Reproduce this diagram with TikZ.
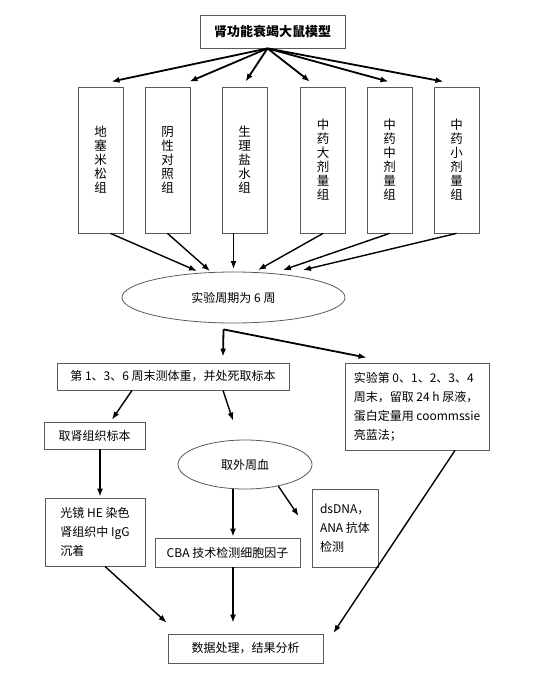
\documentclass[tikz,border=0pt]{standalone}
\usepackage{fontspec}
\usepackage{tikz}
\usetikzlibrary{arrows.meta,positioning,calc,shapes.geometric}
\usepackage{xcolor}
\setmainfont{Noto Sans CJK SC}
\definecolor{bgray}{HTML}{5A5A5A}

\begin{document}
\begin{tikzpicture}[x=1pt,y=-1pt,
box/.style={draw=bgray,line width=0.8pt,inner sep=0pt,font=\fontsize{12}{19}\selectfont,align=center},
vbox/.style={box,minimum width=45pt,minimum height=146pt,font=\fontsize{12.5}{14}\selectfont},
oval/.style={ellipse,draw=bgray,line width=0.8pt,inner sep=0pt,font=\fontsize{12}{14}\selectfont},
arr/.style={draw,line width=1.4pt,-{Latex[length=8pt,width=6pt]}}]
\useasboundingbox (0,0) rectangle (535,682);
\node[box,minimum width=145pt,minimum height=33pt,font=\fontsize{13}{15}\selectfont\bfseries] (title) at (272.5,31.5) {肾功能衰竭大鼠模型};
\foreach \n/\x/\t in {1/100.5/{地\\塞\\米\\松\\组},2/167.5/{阴\\性\\对\\照\\组},3/244.5/{生\\理\\盐\\水\\组},
  4/323/{中\\药\\大\\剂\\量\\组},5/389.5/{中\\药\\中\\剂\\量\\组},6/456.5/{中\\药\\小\\剂\\量\\组}}
  \node[vbox] (g\n) at (\x,160) {\t};
\node[oval,minimum width=223pt,minimum height=51pt] (cyc) at (233.5,297.5) {实验周期为 6 周};
\node[box,minimum width=232pt,minimum height=27pt] (wk) at (173,376.5) {第 1、3、6 周末测体重，并处死取标本};
\node[box,minimum width=144pt,minimum height=87pt,align=left] (urine) at (417,406.5) {实验第 0、1、2、3、4\\周末，留取 24 h 尿液，\\蛋白定量用 coommssie\\亮蓝法；};
\node[box,minimum width=101pt,minimum height=27pt] (kid) at (94.5,435.5) {取肾组织标本};
\node[oval,minimum width=134pt,minimum height=49pt] (blood) at (245,464.5) {取外周血};
\node[box,minimum width=100pt,minimum height=68pt,align=left] (he) at (95,532) {光镜 HE 染色\\肾组织中 IgG\\沉着};
\node[box,minimum width=145pt,minimum height=29pt] (cba) at (227.5,552.5) {CBA 技术检测细胞因子};
\node[box,minimum width=66pt,minimum height=78pt,align=left] (ds) at (345,528) {dsDNA，\\ANA 抗体\\检测};
\node[box,minimum width=155pt,minimum height=29pt] (res) at (245.5,648.5) {数据处理，结果分析};

\coordinate (hub) at ([xshift=-5pt]title.south);
\foreach \i/\d in {1/11,2/22,3/1,4/-13,5/-1,6/-13}
  \draw[arr,line width=1.8pt] (hub) -- ([xshift=\d pt,yshift=5pt]g\i.north);
\foreach \i/\s/\dx/\dy in {1/10/-36.5/26.5,2/0/-23.5/26.5,3/-11/0/28.5,4/0/24.5/27.5,5/0/49.5/27.5,6/0/69.5/27.5}
  \draw[arr] ([xshift=\s pt]g\i.south) -- ([xshift=\dx pt,yshift=\dy pt]cyc.center);
\coordinate (split) at ([xshift=-10pt,yshift=-6pt]cyc.south);
\draw[arr,line width=1.8pt] (split) -- ([xshift=50pt,yshift=6pt]wk.north);
\draw[arr,line width=1.8pt] (split) -- ([xshift=22pt,yshift=5pt]urine.north west);
\draw[arr] ([xshift=-41pt]wk.south) -- ([xshift=17.5pt,yshift=2pt]kid.north);
\draw[arr] ([xshift=50pt]wk.south) -- ([xshift=-12pt,yshift=19pt]blood.north);
\draw[arr] ([xshift=5.5pt]kid.south) -- ([xshift=5pt,yshift=1pt]he.north);
\draw[arr] ([xshift=-12pt]blood.south) -- ([xshift=5.5pt,yshift=1pt]cba.north);
\draw[arr] (blood.-33) -- ([xshift=-13pt,yshift=12pt]ds.west);
\draw[arr] ([xshift=10pt]he.south) -- ([xshift=-1pt,yshift=11pt]res.north west);
\draw[arr] ([xshift=5.5pt]cba.south) -- ([xshift=-12.5pt,yshift=11pt]res.north);
\draw[arr] ([xshift=38pt]urine.south) -- ([xshift=10pt,yshift=15.5pt]res.east);
\end{tikzpicture}
\end{document}
